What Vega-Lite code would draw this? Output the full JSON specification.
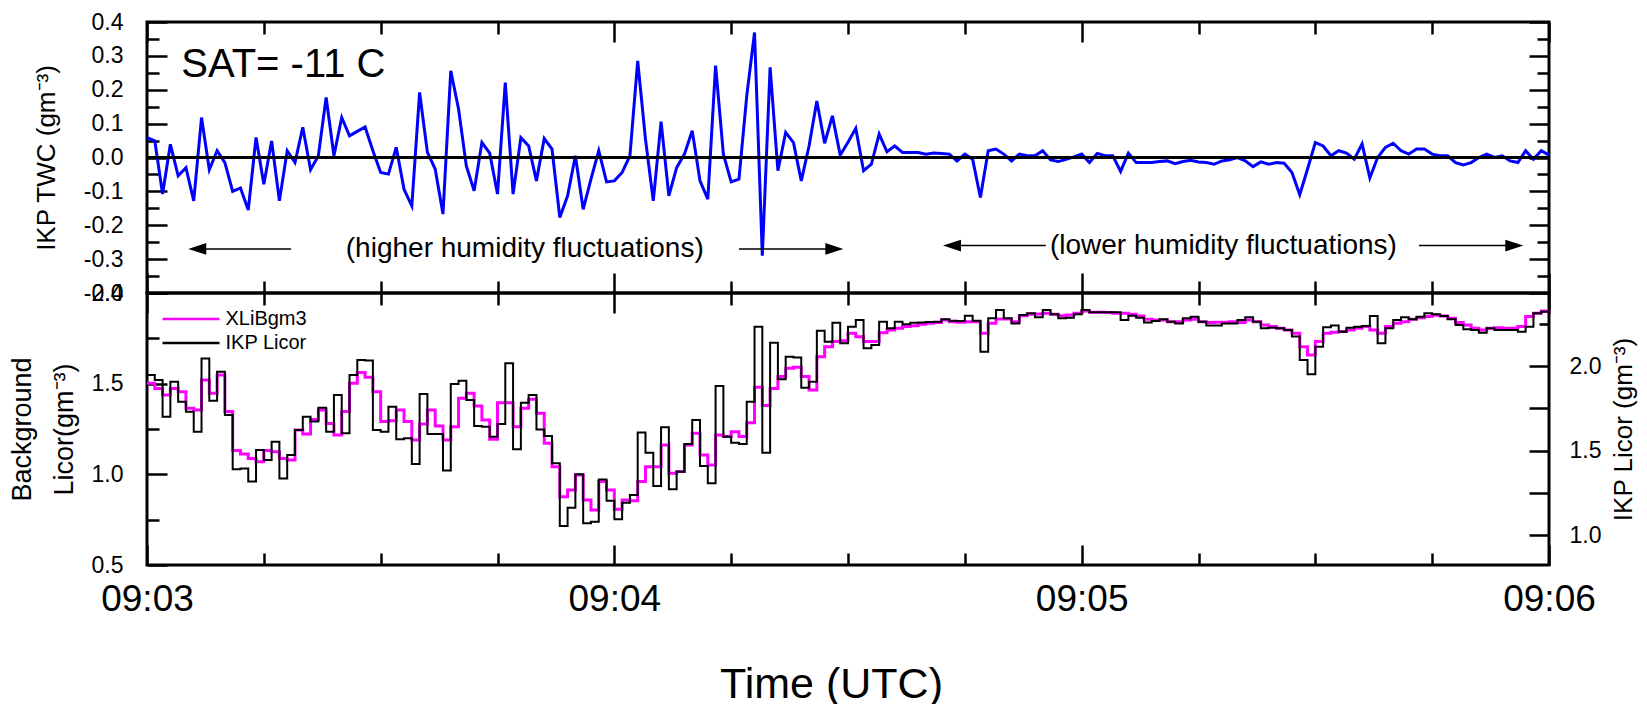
{
  "$schema": "https://vega.github.io/schema/vega-lite/v6.json",
  "padding": {"left": 6, "top": 9, "right": 5, "bottom": 0},
  "spacing": 0,
  "bounds": "flush",
  "resolve": {"scale": {"color": "independent"}, "legend": {"color": "independent"}},
  "config": {
    "font": "Liberation Sans",
    "view": {"stroke": "black", "strokeWidth": 3},
    "axis": {"domain": false, "grid": false, "tickColor": "black", "tickWidth": 2.5, "labelColor": "black", "titleColor": "black", "titleFontWeight": "normal", "labelFlush": false, "labelOverlap": false, "labelBound": false},
    "legend": {"labelColor": "black"}
  },
  "data": {
    "format": {"parse": {"time": "utc:'%H:%M:%S'"}},
    "values": [
{"time":"09:03:00","twc":0.059,"xli":1.502,"ikp":1.947},
{"time":"09:03:01","twc":0.049,"xli":1.474,"ikp":1.917},
{"time":"09:03:02","twc":-0.108,"xli":1.438,"ikp":1.700},
{"time":"09:03:03","twc":0.039,"xli":1.474,"ikp":1.907},
{"time":"09:03:04","twc":-0.054,"xli":1.456,"ikp":1.789},
{"time":"09:03:05","twc":-0.030,"xli":1.364,"ikp":1.730},
{"time":"09:03:06","twc":-0.128,"xli":1.355,"ikp":1.611},
{"time":"09:03:07","twc":0.118,"xli":1.520,"ikp":2.045},
{"time":"09:03:08","twc":-0.036,"xli":1.447,"ikp":1.795},
{"time":"09:03:09","twc":0.020,"xli":1.548,"ikp":1.966},
{"time":"09:03:10","twc":-0.015,"xli":1.346,"ikp":1.710},
{"time":"09:03:11","twc":-0.100,"xli":1.131,"ikp":1.389},
{"time":"09:03:12","twc":-0.090,"xli":1.112,"ikp":1.394},
{"time":"09:03:13","twc":-0.155,"xli":1.088,"ikp":1.316},
{"time":"09:03:14","twc":0.059,"xli":1.070,"ikp":1.503},
{"time":"09:03:15","twc":-0.079,"xli":1.131,"ikp":1.444},
{"time":"09:03:16","twc":0.049,"xli":1.125,"ikp":1.552},
{"time":"09:03:17","twc":-0.128,"xli":1.088,"ikp":1.335},
{"time":"09:03:18","twc":0.020,"xli":1.079,"ikp":1.473},
{"time":"09:03:19","twc":-0.015,"xli":1.245,"ikp":1.621},
{"time":"09:03:20","twc":0.089,"xli":1.223,"ikp":1.700},
{"time":"09:03:21","twc":-0.036,"xli":1.303,"ikp":1.671},
{"time":"09:03:22","twc":0.005,"xli":1.355,"ikp":1.753},
{"time":"09:03:23","twc":0.177,"xli":1.281,"ikp":1.611},
{"time":"09:03:24","twc":0.005,"xli":1.217,"ikp":1.828},
{"time":"09:03:25","twc":0.118,"xli":1.346,"ikp":1.602},
{"time":"09:03:26","twc":0.064,"xli":1.502,"ikp":1.947},
{"time":"09:03:27","twc":0.077,"xli":1.561,"ikp":2.036},
{"time":"09:03:28","twc":0.090,"xli":1.535,"ikp":2.032},
{"time":"09:03:29","twc":0.020,"xli":1.456,"ikp":1.621},
{"time":"09:03:30","twc":-0.044,"xli":1.291,"ikp":1.611},
{"time":"09:03:31","twc":-0.049,"xli":1.296,"ikp":1.759},
{"time":"09:03:32","twc":0.030,"xli":1.355,"ikp":1.566},
{"time":"09:03:33","twc":-0.094,"xli":1.291,"ikp":1.572},
{"time":"09:03:34","twc":-0.143,"xli":1.189,"ikp":1.420},
{"time":"09:03:35","twc":0.192,"xli":1.278,"ikp":1.834},
{"time":"09:03:36","twc":0.015,"xli":1.355,"ikp":1.598},
{"time":"09:03:37","twc":-0.034,"xli":1.267,"ikp":1.598},
{"time":"09:03:38","twc":-0.167,"xli":1.189,"ikp":1.381},
{"time":"09:03:39","twc":0.256,"xli":1.263,"ikp":1.893},
{"time":"09:03:40","twc":0.143,"xli":1.419,"ikp":1.913},
{"time":"09:03:41","twc":-0.025,"xli":1.447,"ikp":1.799},
{"time":"09:03:42","twc":-0.098,"xli":1.377,"ikp":1.645},
{"time":"09:03:43","twc":0.044,"xli":1.300,"ikp":1.641},
{"time":"09:03:44","twc":0.013,"xli":1.193,"ikp":1.582},
{"time":"09:03:45","twc":-0.108,"xli":1.395,"ikp":1.657},
{"time":"09:03:46","twc":0.221,"xli":1.395,"ikp":2.016},
{"time":"09:03:47","twc":-0.108,"xli":1.263,"ikp":1.507},
{"time":"09:03:48","twc":0.059,"xli":1.364,"ikp":1.783},
{"time":"09:03:49","twc":0.034,"xli":1.414,"ikp":1.828},
{"time":"09:03:50","twc":-0.069,"xli":1.337,"ikp":1.625},
{"time":"09:03:51","twc":0.056,"xli":1.171,"ikp":1.586},
{"time":"09:03:52","twc":0.025,"xli":1.042,"ikp":1.424},
{"time":"09:03:53","twc":-0.177,"xli":0.877,"ikp":1.053},
{"time":"09:03:54","twc":-0.113,"xli":0.914,"ikp":1.162},
{"time":"09:03:55","twc":0.005,"xli":0.996,"ikp":1.359},
{"time":"09:03:56","twc":-0.153,"xli":0.859,"ikp":1.069},
{"time":"09:03:57","twc":-0.064,"xli":0.803,"ikp":1.079},
{"time":"09:03:58","twc":0.020,"xli":0.960,"ikp":1.329},
{"time":"09:03:59","twc":-0.072,"xli":0.914,"ikp":1.203},
{"time":"09:04:00","twc":-0.069,"xli":0.807,"ikp":1.093},
{"time":"09:04:01","twc":-0.044,"xli":0.859,"ikp":1.191},
{"time":"09:04:02","twc":0.005,"xli":0.855,"ikp":1.237},
{"time":"09:04:03","twc":0.285,"xli":0.960,"ikp":1.607},
{"time":"09:04:04","twc":0.054,"xli":1.042,"ikp":1.487},
{"time":"09:04:05","twc":-0.128,"xli":1.042,"ikp":1.290},
{"time":"09:04:06","twc":0.106,"xli":1.162,"ikp":1.637},
{"time":"09:04:07","twc":-0.113,"xli":1.006,"ikp":1.270},
{"time":"09:04:08","twc":-0.030,"xli":1.015,"ikp":1.375},
{"time":"09:04:09","twc":0.010,"xli":1.162,"ikp":1.538},
{"time":"09:04:10","twc":0.079,"xli":1.226,"ikp":1.680},
{"time":"09:04:11","twc":-0.069,"xli":1.107,"ikp":1.408},
{"time":"09:04:12","twc":-0.123,"xli":1.052,"ikp":1.306},
{"time":"09:04:13","twc":0.271,"xli":1.217,"ikp":1.882},
{"time":"09:04:14","twc":0.010,"xli":1.208,"ikp":1.582},
{"time":"09:04:15","twc":-0.072,"xli":1.235,"ikp":1.546},
{"time":"09:04:16","twc":-0.064,"xli":1.208,"ikp":1.538},
{"time":"09:04:17","twc":0.182,"xli":1.285,"ikp":1.789},
{"time":"09:04:18","twc":0.369,"xli":1.480,"ikp":2.233},
{"time":"09:04:19","twc":-0.290,"xli":1.379,"ikp":1.487},
{"time":"09:04:20","twc":0.266,"xli":1.474,"ikp":2.138},
{"time":"09:04:21","twc":-0.039,"xli":1.539,"ikp":1.921},
{"time":"09:04:22","twc":0.074,"xli":1.585,"ikp":2.055},
{"time":"09:04:23","twc":0.044,"xli":1.590,"ikp":2.051},
{"time":"09:04:24","twc":-0.069,"xli":1.539,"ikp":1.872},
{"time":"09:04:25","twc":0.034,"xli":1.465,"ikp":1.907},
{"time":"09:04:26","twc":0.167,"xli":1.649,"ikp":2.209},
{"time":"09:04:27","twc":0.042,"xli":1.704,"ikp":2.144},
{"time":"09:04:28","twc":0.123,"xli":1.732,"ikp":2.256},
{"time":"09:04:29","twc":0.007,"xli":1.736,"ikp":2.134},
{"time":"09:04:30","twc":0.045,"xli":1.778,"ikp":2.233},
{"time":"09:04:31","twc":0.086,"xli":1.759,"ikp":2.272},
{"time":"09:04:32","twc":-0.039,"xli":1.732,"ikp":2.105},
{"time":"09:04:33","twc":-0.020,"xli":1.732,"ikp":2.124},
{"time":"09:04:34","twc":0.069,"xli":1.781,"ikp":2.262},
{"time":"09:04:35","twc":0.017,"xli":1.796,"ikp":2.223},
{"time":"09:04:36","twc":0.034,"xli":1.805,"ikp":2.262},
{"time":"09:04:37","twc":0.015,"xli":1.815,"ikp":2.247},
{"time":"09:04:38","twc":0.015,"xli":1.820,"ikp":2.256},
{"time":"09:04:39","twc":0.015,"xli":1.827,"ikp":2.258},
{"time":"09:04:40","twc":0.010,"xli":1.833,"ikp":2.260},
{"time":"09:04:41","twc":0.013,"xli":1.837,"ikp":2.262},
{"time":"09:04:42","twc":0.012,"xli":1.851,"ikp":2.276},
{"time":"09:04:43","twc":0.010,"xli":1.842,"ikp":2.268},
{"time":"09:04:44","twc":-0.010,"xli":1.839,"ikp":2.266},
{"time":"09:04:45","twc":0.010,"xli":1.842,"ikp":2.298},
{"time":"09:04:46","twc":-0.005,"xli":1.842,"ikp":2.268},
{"time":"09:04:47","twc":-0.118,"xli":1.778,"ikp":2.085},
{"time":"09:04:48","twc":0.020,"xli":1.833,"ikp":2.282},
{"time":"09:04:49","twc":0.025,"xli":1.857,"ikp":2.331},
{"time":"09:04:50","twc":0.010,"xli":1.857,"ikp":2.282},
{"time":"09:04:51","twc":-0.010,"xli":1.842,"ikp":2.252},
{"time":"09:04:52","twc":0.010,"xli":1.875,"ikp":2.302},
{"time":"09:04:53","twc":0.005,"xli":1.883,"ikp":2.312},
{"time":"09:04:54","twc":0.005,"xli":1.884,"ikp":2.288},
{"time":"09:04:55","twc":0.020,"xli":1.888,"ikp":2.331},
{"time":"09:04:56","twc":-0.007,"xli":1.883,"ikp":2.306},
{"time":"09:04:57","twc":-0.012,"xli":1.875,"ikp":2.282},
{"time":"09:04:58","twc":-0.005,"xli":1.879,"ikp":2.286},
{"time":"09:04:59","twc":0.002,"xli":1.888,"ikp":2.306},
{"time":"09:05:00","twc":0.010,"xli":1.901,"ikp":2.331},
{"time":"09:05:01","twc":-0.015,"xli":1.894,"ikp":2.318},
{"time":"09:05:02","twc":0.012,"xli":1.894,"ikp":2.318},
{"time":"09:05:03","twc":0.005,"xli":1.893,"ikp":2.318},
{"time":"09:05:04","twc":0.005,"xli":1.888,"ikp":2.318},
{"time":"09:05:05","twc":-0.041,"xli":1.888,"ikp":2.272},
{"time":"09:05:06","twc":0.013,"xli":1.883,"ikp":2.298},
{"time":"09:05:07","twc":-0.015,"xli":1.873,"ikp":2.286},
{"time":"09:05:08","twc":-0.015,"xli":1.855,"ikp":2.258},
{"time":"09:05:09","twc":-0.015,"xli":1.851,"ikp":2.266},
{"time":"09:05:10","twc":-0.012,"xli":1.851,"ikp":2.276},
{"time":"09:05:11","twc":-0.010,"xli":1.842,"ikp":2.262},
{"time":"09:05:12","twc":-0.018,"xli":1.842,"ikp":2.252},
{"time":"09:05:13","twc":-0.012,"xli":1.851,"ikp":2.282},
{"time":"09:05:14","twc":-0.008,"xli":1.855,"ikp":2.292},
{"time":"09:05:15","twc":-0.013,"xli":1.842,"ikp":2.262},
{"time":"09:05:16","twc":-0.015,"xli":1.837,"ikp":2.239},
{"time":"09:05:17","twc":-0.020,"xli":1.839,"ikp":2.239},
{"time":"09:05:18","twc":-0.010,"xli":1.839,"ikp":2.252},
{"time":"09:05:19","twc":-0.007,"xli":1.842,"ikp":2.252},
{"time":"09:05:20","twc":0.000,"xli":1.837,"ikp":2.272},
{"time":"09:05:21","twc":-0.010,"xli":1.851,"ikp":2.288},
{"time":"09:05:22","twc":-0.027,"xli":1.842,"ikp":2.262},
{"time":"09:05:23","twc":-0.013,"xli":1.824,"ikp":2.223},
{"time":"09:05:24","twc":-0.020,"xli":1.815,"ikp":2.227},
{"time":"09:05:25","twc":-0.015,"xli":1.805,"ikp":2.223},
{"time":"09:05:26","twc":-0.017,"xli":1.796,"ikp":2.213},
{"time":"09:05:27","twc":-0.044,"xli":1.778,"ikp":2.174},
{"time":"09:05:28","twc":-0.110,"xli":1.704,"ikp":2.036},
{"time":"09:05:29","twc":-0.034,"xli":1.658,"ikp":1.951},
{"time":"09:05:30","twc":0.044,"xli":1.732,"ikp":2.114},
{"time":"09:05:31","twc":0.034,"xli":1.778,"ikp":2.229},
{"time":"09:05:32","twc":0.005,"xli":1.783,"ikp":2.239},
{"time":"09:05:33","twc":0.020,"xli":1.787,"ikp":2.203},
{"time":"09:05:34","twc":0.013,"xli":1.796,"ikp":2.227},
{"time":"09:05:35","twc":-0.005,"xli":1.805,"ikp":2.233},
{"time":"09:05:36","twc":0.040,"xli":1.815,"ikp":2.237},
{"time":"09:05:37","twc":-0.060,"xli":1.796,"ikp":2.296},
{"time":"09:05:38","twc":0.000,"xli":1.778,"ikp":2.134},
{"time":"09:05:39","twc":0.030,"xli":1.815,"ikp":2.223},
{"time":"09:05:40","twc":0.042,"xli":1.833,"ikp":2.272},
{"time":"09:05:41","twc":0.020,"xli":1.842,"ikp":2.288},
{"time":"09:05:42","twc":0.010,"xli":1.855,"ikp":2.276},
{"time":"09:05:43","twc":0.025,"xli":1.864,"ikp":2.292},
{"time":"09:05:44","twc":0.025,"xli":1.870,"ikp":2.312},
{"time":"09:05:45","twc":0.010,"xli":1.877,"ikp":2.306},
{"time":"09:05:46","twc":0.005,"xli":1.873,"ikp":2.296},
{"time":"09:05:47","twc":0.005,"xli":1.861,"ikp":2.276},
{"time":"09:05:48","twc":-0.015,"xli":1.837,"ikp":2.243},
{"time":"09:05:49","twc":-0.022,"xli":1.824,"ikp":2.217},
{"time":"09:05:50","twc":-0.015,"xli":1.805,"ikp":2.213},
{"time":"09:05:51","twc":0.000,"xli":1.796,"ikp":2.197},
{"time":"09:05:52","twc":0.010,"xli":1.805,"ikp":2.223},
{"time":"09:05:53","twc":0.000,"xli":1.809,"ikp":2.213},
{"time":"09:05:54","twc":0.005,"xli":1.805,"ikp":2.213},
{"time":"09:05:55","twc":-0.010,"xli":1.805,"ikp":2.213},
{"time":"09:05:56","twc":-0.015,"xli":1.815,"ikp":2.203},
{"time":"09:05:57","twc":0.020,"xli":1.870,"ikp":2.233},
{"time":"09:05:58","twc":-0.005,"xli":1.888,"ikp":2.312},
{"time":"09:05:59","twc":0.020,"xli":1.901,"ikp":2.321},
{"time":"09:06:00","twc":0.007,"xli":1.906,"ikp":2.337}
    ]
  },
  "vconcat": [
    {
      "width": 1402,
      "height": 271,
      "resolve": {"axis": {"x": "independent", "y": "independent"}},
      "layer": [
        {
          "mark": {"type": "line", "color": "#0000ff", "strokeWidth": 3},
          "encoding": {
            "x": {"field": "time", "type": "temporal",
              "scale": {"type": "utc", "nice": false, "domain": [-2208956220000, -2208956040000]},
              "axis": {"orient": "bottom", "values": [-2208956205000, -2208956190000, -2208956175000, -2208956145000, -2208956130000, -2208956115000, -2208956085000, -2208956070000, -2208956055000], "tickSize": -12, "labels": false, "title": null}},
            "y": {"field": "twc", "type": "quantitative",
              "scale": {"domain": [-0.4, 0.4], "nice": false, "zero": false},
              "axis": {"orient": "left", "values": [-0.35, -0.25, -0.15, -0.05, 0.05, 0.15, 0.25, 0.35], "tickSize": -12, "labels": false, "title": null}}
          }
        },
        {
          "mark": {"type": "point", "opacity": 0},
          "encoding": {
            "x": {"field": "time", "type": "temporal",
              "axis": {"orient": "bottom", "values": [-2208956220000, -2208956160000, -2208956100000, -2208956040000], "tickSize": -20, "labels": false, "title": null}},
            "y": {"field": "twc", "type": "quantitative",
              "axis": {"orient": "left", "values": [-0.4, -0.3, -0.2, -0.1, 0, 0.1, 0.2, 0.3, 0.4], "tickSize": -20,
                "labelExpr": "replace(format(datum.value, '.1f'), '\u2212', '-')",
                "labelFontSize": 23, "labelPadding": 44,
                "title": "IKP TWC (gm\u207b\u00b3)", "titleFontSize": 26, "titlePadding": 24}}
          }
        },
        {
          "mark": {"type": "point", "opacity": 0},
          "encoding": {
            "x": {"field": "time", "type": "temporal",
              "axis": {"orient": "top", "values": [-2208956205000, -2208956190000, -2208956175000, -2208956145000, -2208956130000, -2208956115000, -2208956085000, -2208956070000, -2208956055000], "tickSize": -12, "labels": false, "title": null}},
            "y": {"field": "twc", "type": "quantitative",
              "axis": {"orient": "right", "values": [-0.35, -0.25, -0.15, -0.05, 0.05, 0.15, 0.25, 0.35], "tickSize": -12, "labels": false, "title": null}}
          }
        },
        {
          "mark": {"type": "point", "opacity": 0},
          "encoding": {
            "x": {"field": "time", "type": "temporal",
              "axis": {"orient": "top", "values": [-2208956220000, -2208956160000, -2208956100000, -2208956040000], "tickSize": -20, "labels": false, "title": null}},
            "y": {"field": "twc", "type": "quantitative",
              "axis": {"orient": "right", "values": [-0.4, -0.3, -0.2, -0.1, 0, 0.1, 0.2, 0.3, 0.4], "tickSize": -20, "labels": false, "title": null}}
          }
        },
        {
          "data": {"values": [{}]},
          "mark": {"type": "rule", "color": "black", "strokeWidth": 3},
          "encoding": {"y": {"datum": 0, "type": "quantitative", "axis": null}}
        },
        {
          "data": {"values": [{}]},
          "mark": {"type": "text", "text": "SAT= -11 C", "fontSize": 40, "align": "left", "baseline": "alphabetic", "color": "black"},
          "encoding": {
            "x": {"datum": -2208956215600, "type": "temporal", "axis": null},
            "y": {"datum": 0.2376, "type": "quantitative", "axis": null}
          }
        },
        {
          "data": {"values": [{}]},
          "mark": {"type": "text", "text": "(higher humidity fluctuations)", "fontSize": 28, "align": "center", "baseline": "middle", "color": "black"},
          "encoding": {
            "x": {"datum": -2208956171500, "type": "temporal", "axis": null},
            "y": {"datum": -0.27, "type": "quantitative", "axis": null}
          }
        },
        {
          "data": {"values": [{}]},
          "mark": {"type": "text", "text": "(lower humidity fluctuations)", "fontSize": 28, "align": "center", "baseline": "middle", "color": "black"},
          "encoding": {
            "x": {"datum": -2208956081800, "type": "temporal", "axis": null},
            "y": {"datum": -0.262, "type": "quantitative", "axis": null}
          }
        },
        {
          "data": {"values": [{}]},
          "mark": {"type": "rule", "color": "black", "strokeWidth": 1.5},
          "encoding": {
            "x": {"datum": -2208956214000, "type": "temporal", "axis": null},
            "x2": {"datum": -2208956201500},
            "y": {"datum": -0.27, "type": "quantitative", "axis": null}
          }
        },
        {
          "data": {"values": [{}]},
          "mark": {"type": "point", "shape": "M0,0L2,-0.65L2,0.65Z", "filled": true, "color": "black", "opacity": 1, "size": 324},
          "encoding": {
            "x": {"datum": -2208956214700, "type": "temporal", "axis": null},
            "y": {"datum": -0.27, "type": "quantitative", "axis": null}
          }
        },
        {
          "data": {"values": [{}]},
          "mark": {"type": "rule", "color": "black", "strokeWidth": 1.5},
          "encoding": {
            "x": {"datum": -2208956144000, "type": "temporal", "axis": null},
            "x2": {"datum": -2208956131500},
            "y": {"datum": -0.27, "type": "quantitative", "axis": null}
          }
        },
        {
          "data": {"values": [{}]},
          "mark": {"type": "point", "shape": "M0,0L-2,-0.65L-2,0.65Z", "filled": true, "color": "black", "opacity": 1, "size": 324},
          "encoding": {
            "x": {"datum": -2208956130600, "type": "temporal", "axis": null},
            "y": {"datum": -0.27, "type": "quantitative", "axis": null}
          }
        },
        {
          "data": {"values": [{}]},
          "mark": {"type": "rule", "color": "black", "strokeWidth": 1.5},
          "encoding": {
            "x": {"datum": -2208956117000, "type": "temporal", "axis": null},
            "x2": {"datum": -2208956104600},
            "y": {"datum": -0.26, "type": "quantitative", "axis": null}
          }
        },
        {
          "data": {"values": [{}]},
          "mark": {"type": "point", "shape": "M0,0L2,-0.65L2,0.65Z", "filled": true, "color": "black", "opacity": 1, "size": 324},
          "encoding": {
            "x": {"datum": -2208956117800, "type": "temporal", "axis": null},
            "y": {"datum": -0.26, "type": "quantitative", "axis": null}
          }
        },
        {
          "data": {"values": [{}]},
          "mark": {"type": "rule", "color": "black", "strokeWidth": 1.5},
          "encoding": {
            "x": {"datum": -2208956056700, "type": "temporal", "axis": null},
            "x2": {"datum": -2208956044200},
            "y": {"datum": -0.26, "type": "quantitative", "axis": null}
          }
        },
        {
          "data": {"values": [{}]},
          "mark": {"type": "point", "shape": "M0,0L-2,-0.65L-2,0.65Z", "filled": true, "color": "black", "opacity": 1, "size": 324},
          "encoding": {
            "x": {"datum": -2208956043300, "type": "temporal", "axis": null},
            "y": {"datum": -0.26, "type": "quantitative", "axis": null}
          }
        }
      ]
    },
    {
      "width": 1402,
      "height": 272,
      "resolve": {"scale": {"y": "independent"}, "axis": {"x": "independent", "y": "independent"}},
      "layer": [
        {
          "mark": {"type": "line", "interpolate": "step-after", "strokeWidth": 3},
          "encoding": {
            "x": {"field": "time", "type": "temporal",
              "scale": {"type": "utc", "nice": false, "domain": [-2208956220000, -2208956040000]},
              "axis": {"orient": "bottom", "values": [-2208956205000, -2208956190000, -2208956175000, -2208956145000, -2208956130000, -2208956115000, -2208956085000, -2208956070000, -2208956055000], "tickSize": -12, "labels": false, "title": null}},
            "y": {"field": "xli", "type": "quantitative",
              "scale": {"domain": [0.5, 2.0], "nice": false, "zero": false},
              "axis": {"orient": "left", "values": [0.75, 1.25, 1.75], "tickSize": -12, "labels": false, "title": null}},
            "color": {"datum": "XLiBgm3", "type": "nominal",
              "scale": {"domain": ["XLiBgm3", "IKP Licor"], "range": ["#ff00ff", "#000000"]},
              "legend": {"orient": "none", "legendX": 4.5, "legendY": 15, "title": null, "symbolType": "M0,0L6,0", "symbolSize": 361, "symbolStrokeWidth": 2.5, "symbolFillColor": "transparent", "labelFontSize": 20, "labelOffset": 52, "rowPadding": 3, "padding": 0}}
          }
        },
        {
          "mark": {"type": "point", "opacity": 0},
          "encoding": {
            "x": {"field": "time", "type": "temporal",
              "axis": {"orient": "bottom", "values": [-2208956220000, -2208956160000, -2208956100000, -2208956040000], "tickSize": -20,
                "format": "%H:%M", "labelFontSize": 37, "labelPadding": 36,
                "title": "Time (UTC)", "titleFontSize": 43, "titlePadding": 46, "titleX": 684}},
            "y": {"field": "xli", "type": "quantitative",
              "scale": {"domain": [0.5, 2.0], "nice": false, "zero": false},
              "axis": {"orient": "left", "values": [0.5, 1.0, 1.5, 2.0], "tickSize": -20, "format": ".1f",
                "labelFontSize": 23, "labelPadding": 44,
                "title": ["Background", "Licor(gm\u207b\u00b3)"], "titleFontSize": 27, "titlePadding": 13, "titleLineHeight": 42}}
          }
        },
        {
          "mark": {"type": "line", "interpolate": "step-after", "strokeWidth": 2},
          "encoding": {
            "x": {"field": "time", "type": "temporal",
              "axis": {"orient": "top", "values": [-2208956205000, -2208956190000, -2208956175000, -2208956145000, -2208956130000, -2208956115000, -2208956085000, -2208956070000, -2208956055000], "tickSize": -12, "labels": false, "title": null}},
            "y": {"field": "ikp", "type": "quantitative",
              "scale": {"domain": [0.8225, 2.432], "nice": false, "zero": false},
              "axis": {"orient": "right", "values": [1.0, 1.25, 1.5, 1.75, 2.0], "tickSize": -20,
                "labelExpr": "abs(datum.value*2 - round(datum.value*2)) < 0.01 ? format(datum.value, '.1f') : ''",
                "labelFontSize": 23, "labelPadding": 40,
                "title": "IKP Licor (gm\u207b\u00b3)", "titleFontSize": 26, "titlePadding": 10, "titleAngle": 270, "titleBaseline": "top"}},
            "color": {"datum": "IKP Licor", "type": "nominal"}
          }
        },
        {
          "mark": {"type": "point", "opacity": 0},
          "encoding": {
            "x": {"field": "time", "type": "temporal",
              "axis": {"orient": "top", "values": [-2208956220000, -2208956160000, -2208956100000, -2208956040000], "tickSize": -20, "labels": false, "title": null}},
            "y": {"field": "ikp", "type": "quantitative",
              "scale": {"domain": [0.8225, 2.432], "nice": false, "zero": false},
              "axis": {"orient": "right", "values": [2.25], "tickSize": -10, "labels": false, "title": null}}
          }
        }
      ]
    }
  ]
}
